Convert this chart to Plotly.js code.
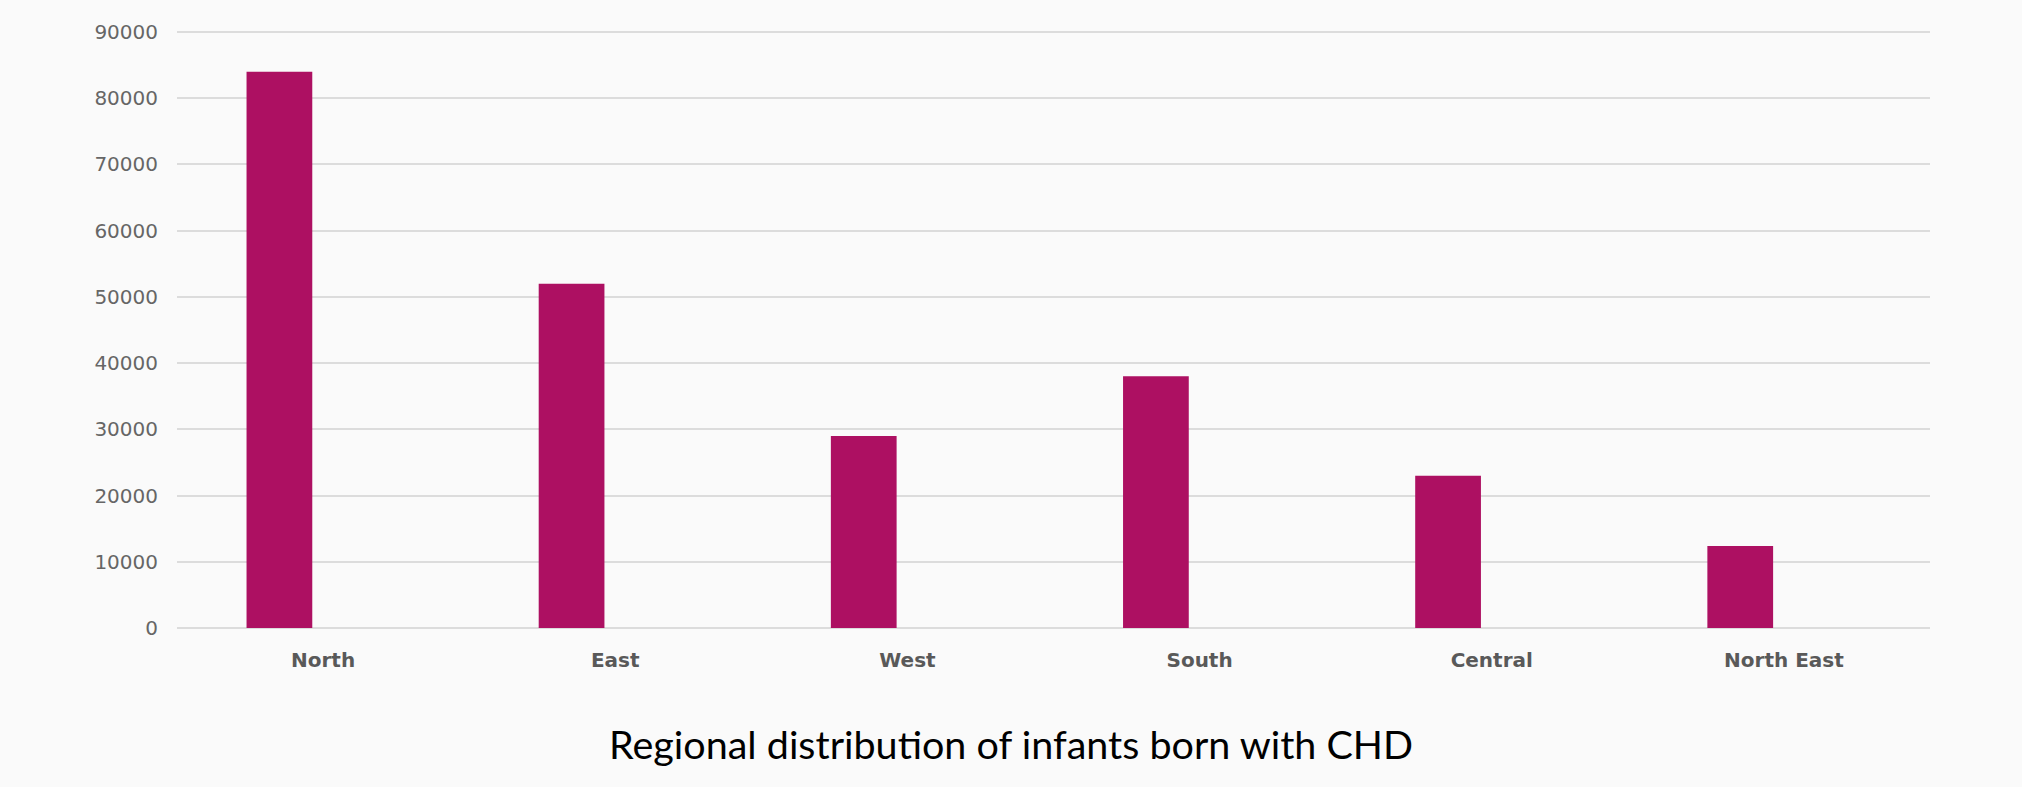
<!DOCTYPE html>
<html>
<head>
<meta charset="utf-8">
<script src="https://cdn.plot.ly/plotly-3.0.1.min.js"></script>
<style>html,body{margin:0;padding:0;background:#fafafa;}</style>
</head>
<body>
<div id="chart" style="width:2022px;height:787px;"></div>
<script>
const regions = ["North", "East", "West", "South", "Central", "North East"];
const infantsWithCHD = [84000, 52000, 29000, 38000, 23000, 12400];
const yTicks = [0, 10000, 20000, 30000, 40000, 50000, 60000, 70000, 80000, 90000];
const chartTitle = "Regional distribution of infants born with CHD";

const trace = {
  type: "bar",
  x: regions,
  y: infantsWithCHD,
  width: 0.225,
  offset: -0.262,
  marker: {color: "#ad1062", line: {width: 0}},
  hoverinfo: "x+y"
};

const layout = {
  width: 2022,
  height: 787,
  margin: {l: 177, r: 92, t: 29, b: 159},
  paper_bgcolor: "#fafafa",
  plot_bgcolor: "#fafafa",
  showlegend: false,
  title: {
    text: chartTitle,
    font: {family: "Lato, 'Open Sans', sans-serif", size: 39.5, color: "#000000"},
    x: 0.5, xanchor: "center",
    xref: "container",
    y: 1 - 745/787, yref: "container", yanchor: "middle"
  },
  xaxis: {
    type: "category",
    showgrid: false,
    zeroline: false,
    showline: false,
    ticks: "",
    ticklabelstandoff: 18,
    tickfont: {family: "'Century Gothic', 'DejaVu Sans', sans-serif", size: 20, color: "#595959", weight: "bold"}
  },
  yaxis: {
    range: [0, 90450],
    tickvals: yTicks,
    ticktext: yTicks.map(String),
    showgrid: true,
    gridcolor: "#dcdcdc",
    gridwidth: 2,
    zeroline: true,
    zerolinecolor: "#dcdcdc",
    zerolinewidth: 2,
    showline: false,
    ticks: "",
    ticklabelstandoff: 18,
    tickfont: {family: "'Century Gothic', 'DejaVu Sans', sans-serif", size: 20, color: "#666666"}
  }
};

Plotly.newPlot("chart", [trace], layout, {displayModeBar: false, staticPlot: true});
</script>
</body>
</html>
